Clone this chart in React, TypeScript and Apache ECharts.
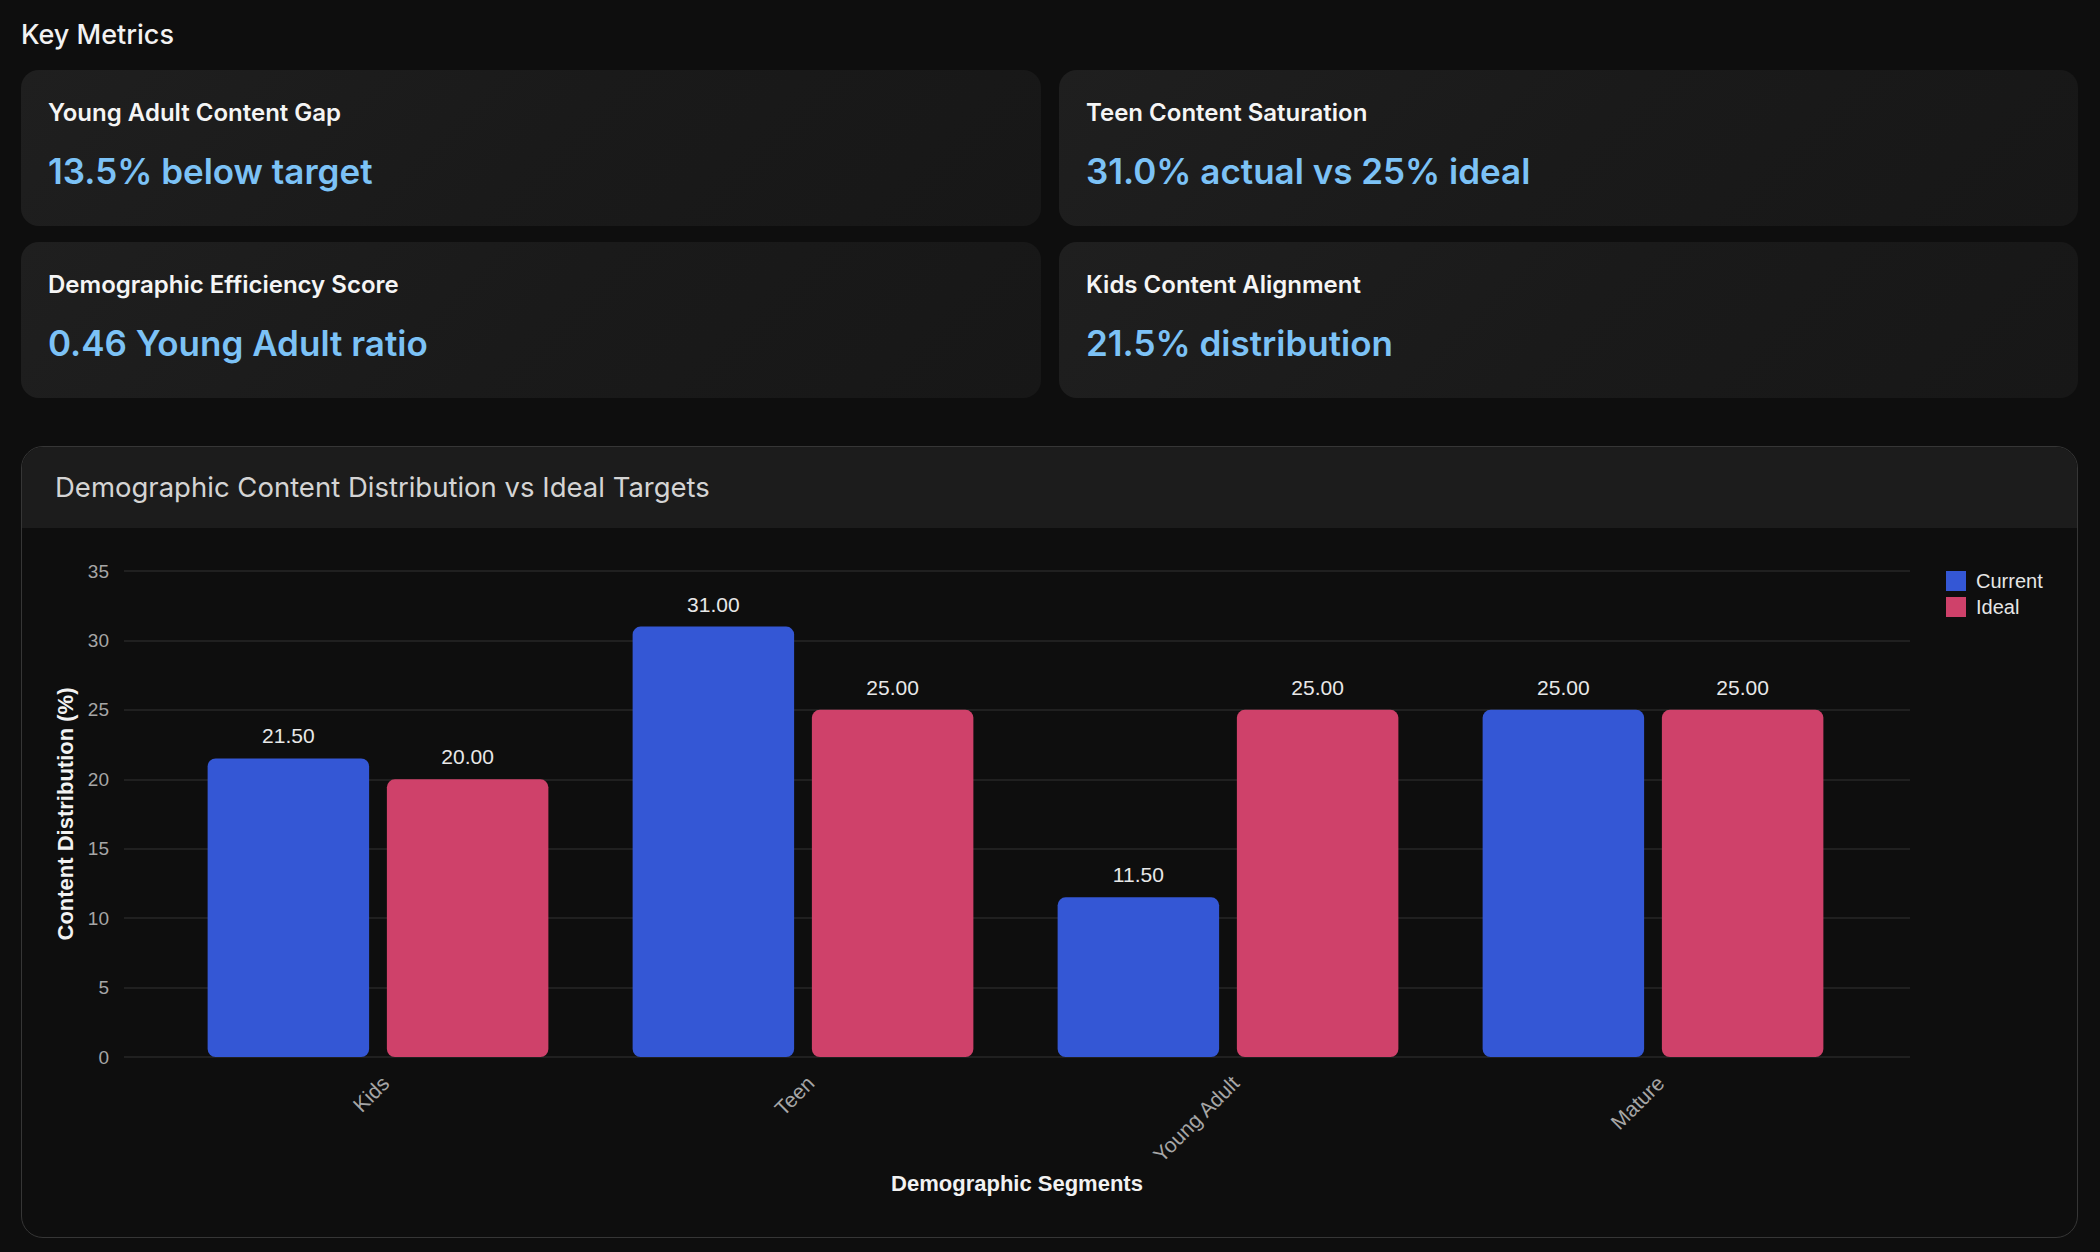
import React, { useEffect, useRef } from "react";
import * as echarts from "echarts";

const categories = ["Kids", "Teen", "Young Adult", "Mature"];
const currentValues = [21.5, 31.0, 11.5, 25.0];
const idealValues = [20.0, 25.0, 25.0, 25.0];
const seriesNames = ["Current", "Ideal"];
const yMin = 0;
const yMax = 35;
const yInterval = 5;

const metricTitles = [
  "Young Adult Content Gap",
  "Teen Content Saturation",
  "Demographic Efficiency Score",
  "Kids Content Alignment",
];
const metricValues = [
  "13.5% below target",
  "31.0% actual vs 25% ideal",
  "0.46 Young Adult ratio",
  "21.5% distribution",
];

const CHART_FONT = "'Helvetica Neue', Helvetica, 'Liberation Sans', Arial, sans-serif";
const HTML_FONT = "Inter, 'Noto Sans', sans-serif";

const cardPos = [
  [21, 70],
  [1059, 70],
  [21, 242],
  [1059, 242],
];

function Chart() {
  const ref = useRef<HTMLDivElement>(null);
  useEffect(() => {
    if (!ref.current) return;
    const chart = echarts.init(ref.current, null, { renderer: "svg" });
    const gridTop = 43;
    const gridBottom = 179;
    const valueLabel = {
      show: true,
      position: "top",
      distance: 12,
      color: "#e8e8e8",
      fontSize: 21,
      fontFamily: CHART_FONT,
      formatter: (p: any) => Number(p.value).toFixed(2),
    };
    chart.setOption({
      animation: false,
      backgroundColor: "transparent",
      textStyle: { fontFamily: CHART_FONT },
      legend: {
        orient: "vertical",
        left: 1919,
        top: 38,
        itemWidth: 20,
        itemHeight: 20,
        itemGap: 6,
        icon: "rect",
        data: seriesNames,
        textStyle: { color: "#e6e6e6", fontSize: 20, fontFamily: CHART_FONT, padding: [0, 0, 0, 5] },
      },
      grid: [
        { left: 102, right: 166, top: gridTop, bottom: gridBottom },
        { left: 143.5, right: 210.5, top: gridTop, bottom: gridBottom },
      ],
      xAxis: [
        {
          gridIndex: 0,
          type: "value",
          min: 0,
          max: 1,
          axisLine: { show: false },
          axisTick: { show: false },
          axisLabel: { show: false },
          splitLine: { show: false },
          name: "Demographic Segments",
          nameLocation: "middle",
          nameGap: 115,
          nameTextStyle: { color: "#f2f2f2", fontSize: 22, fontWeight: "bold", fontFamily: CHART_FONT },
        },
        {
          gridIndex: 1,
          type: "category",
          data: categories,
          axisLine: { show: false },
          axisTick: { show: false },
          splitLine: { show: false },
          axisLabel: {
            rotate: 45,
            margin: 15,
            verticalAlign: "top",
            color: "#a6a6a6",
            fontSize: 21,
            fontFamily: CHART_FONT,
          },
        },
      ],
      yAxis: [
        {
          gridIndex: 0,
          type: "value",
          min: yMin,
          max: yMax,
          interval: yInterval,
          axisLine: { show: false },
          axisTick: { show: false },
          splitLine: { lineStyle: { color: "#272727", width: 1.5 } },
          axisLabel: { margin: 15, color: "#a6a6a6", fontSize: 19, fontFamily: CHART_FONT },
          name: "Content Distribution (%)",
          nameLocation: "middle",
          nameGap: 48,
          nameTextStyle: { color: "#f2f2f2", fontSize: 22, fontWeight: "bold", fontFamily: CHART_FONT },
        },
        {
          gridIndex: 1,
          type: "value",
          min: yMin,
          max: yMax,
          interval: yInterval,
          show: false,
          splitLine: { show: false },
        },
      ],
      series: [
        {
          name: seriesNames[0],
          type: "bar",
          xAxisIndex: 1,
          yAxisIndex: 1,
          data: currentValues,
          barWidth: "38%",
          barGap: "11%",
          itemStyle: { color: "#3457d5", borderRadius: 8 },
          label: valueLabel,
        },
        {
          name: seriesNames[1],
          type: "bar",
          xAxisIndex: 1,
          yAxisIndex: 1,
          data: idealValues,
          barWidth: "38%",
          barGap: "11%",
          itemStyle: { color: "#cf416a", borderRadius: 8 },
          label: valueLabel,
        },
      ],
    });
    return () => chart.dispose();
  }, []);
  return (
    <div
      ref={ref}
      style={{ position: "absolute", left: 22, top: 528, width: 2054, height: 708 }}
    />
  );
}

export default function App() {
  return (
    <div
      style={{
        position: "fixed",
        left: 0,
        top: 0,
        width: 2100,
        height: 1252,
        background: "#0e0e0e",
        fontFamily: HTML_FONT,
        overflow: "hidden",
      }}
    >
      <div
        style={{
          position: "absolute",
          left: 21,
          top: 21,
          fontSize: 27,
          lineHeight: 1,
          color: "#f2f2f2",
          fontWeight: 500,
          whiteSpace: "nowrap",
        }}
      >
        Key Metrics
      </div>
      {metricTitles.map((t, i) => (
        <div
          key={t}
          style={{
            position: "absolute",
            left: cardPos[i][0],
            top: cardPos[i][1],
            width: i % 2 === 0 ? 1020 : 1019,
            height: 156,
            borderRadius: 18,
            background: "linear-gradient(135deg, #1f1f1f 0%, #1a1a1a 50%, #171717 100%)",
            boxSizing: "border-box",
          }}
        >
          <div
            style={{
              position: "absolute",
              left: 27,
              top: 31,
              fontSize: 24,
              lineHeight: 1,
              fontWeight: 600,
              color: "#f5f5f5",
              whiteSpace: "nowrap",
            }}
          >
            {t}
          </div>
          <div
            style={{
              position: "absolute",
              left: 27,
              top: 84,
              fontSize: 35,
              lineHeight: 1,
              fontWeight: 600,
              color: "#7cc2f6",
              whiteSpace: "nowrap",
            }}
          >
            {metricValues[i]}
          </div>
        </div>
      ))}
      <div
        style={{
          position: "absolute",
          left: 21,
          top: 446,
          width: 2057,
          height: 792,
          border: "1.5px solid #363636",
          borderRadius: 22,
          boxSizing: "border-box",
          overflow: "hidden",
          background: "#0e0e0e",
        }}
      >
        <div style={{ position: "absolute", left: 0, top: 0, right: 0, height: 81, background: "#1c1c1c" }} />
        <div
          style={{
            position: "absolute",
            left: 33,
            top: 27,
            fontSize: 27.5,
            lineHeight: 1,
            fontWeight: 400,
            color: "#d4d4d4",
            whiteSpace: "nowrap",
          }}
        >
          Demographic Content Distribution vs Ideal Targets
        </div>
      </div>
      <Chart />
    </div>
  );
}
